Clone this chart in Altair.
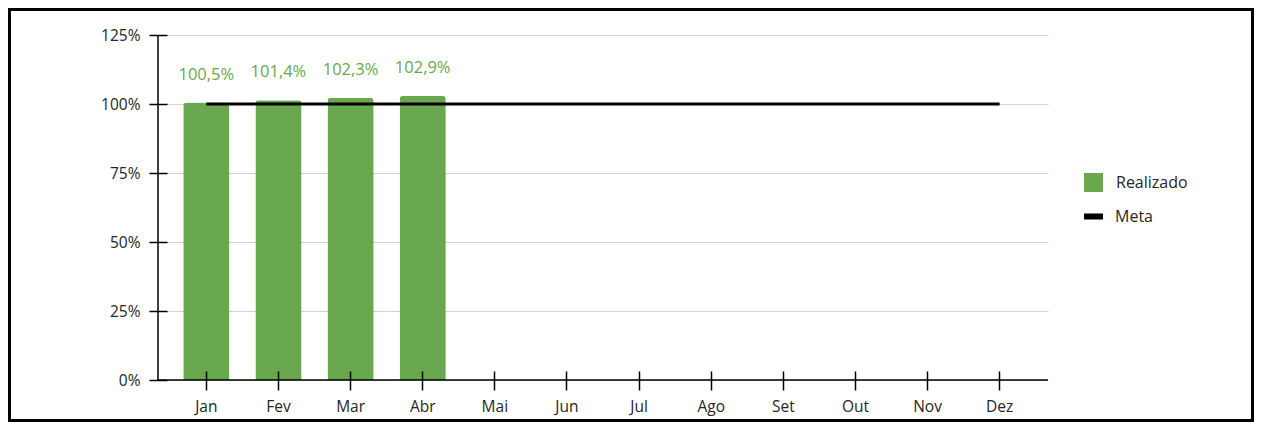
import altair as alt
import pandas as pd

meses = ["Jan", "Fev", "Mar", "Abr", "Mai", "Jun", "Jul", "Ago", "Set", "Out", "Nov", "Dez"]
realizado_meses = ["Jan", "Fev", "Mar", "Abr"]
realizado = [1.005, 1.014, 1.023, 1.029]
meta = [1.0] * 12
y_ticks = [0, 0.25, 0.5, 0.75, 1.0, 1.25]

W, H = 890, 345
GREEN = "#6aa84f"
TEXT = "#262626"
FONT = "Open Sans"

df_real = pd.DataFrame({"mes": realizado_meses, "valor": realizado, "serie": ["Realizado"] * 4})
df_meta = pd.DataFrame({"mes": meses, "valor": meta, "serie": ["Meta"] * 12})
df_zero = pd.DataFrame({"valor": [0.0]})

xscale = alt.Scale(domain=meses, paddingInner=0.36, paddingOuter=0.35)
yscale = alt.Scale(domain=[0, 1.25], nice=False, zero=True)

x_enc = alt.X(
    "mes:N", sort=meses, scale=xscale, title=None,
    axis=alt.Axis(labelAngle=0, offset=-9, tickSize=19, domain=False, grid=False,
                  tickColor="black", tickWidth=1.5, labelFontSize=15.5, labelColor=TEXT,
                  labelPadding=9.5, zindex=1, labelFont=FONT),
)
y_enc = alt.Y(
    "valor:Q", scale=yscale, title=None,
    axis=alt.Axis(values=y_ticks, format=".0%", offset=-9, tickSize=18, domain=False,
                  grid=True, gridColor="#d0d0d0", gridWidth=1, tickColor="black",
                  tickWidth=1.5, labelFontSize=15.5, labelColor=TEXT, labelPadding=9,
                  zindex=0, labelFont=FONT),
)

# decorative frame round the whole chart (outer edge 150px left of and 27px above the plot)
frame = alt.Chart(df_zero).mark_rect(
    fill="white", fillOpacity=0, stroke="black", strokeWidth=3
).encode(
    x=alt.value(-148.5), x2=alt.value(W + 204.5),
    y=alt.value(-25.5), y2=alt.value(H + 40.5),
)

bars = alt.Chart(df_real).mark_bar(cornerRadiusTopLeft=3, cornerRadiusTopRight=3).encode(
    x=x_enc,
    y=y_enc,
    color=alt.Color(
        "serie:N",
        scale=alt.Scale(domain=["Realizado"], range=[GREEN]),
        legend=alt.Legend(orient="none", legendX=926, legendY=138, title=None,
                          symbolType="square", symbolSize=361, symbolStrokeWidth=0,
                          labelFontSize=16, labelColor=TEXT, labelOffset=13, padding=0,
                          labelFont=FONT),
    ),
)

line = alt.Chart(df_meta).mark_line(color="black", strokeWidth=3).encode(
    x=x_enc,
    y=y_enc,
    strokeDash=alt.StrokeDash(
        "serie:N",
        scale=alt.Scale(domain=["Meta"], range=[[1, 0]]),
        legend=alt.Legend(orient="none", legendX=923, legendY=169, title=None,
                          symbolType="stroke", symbolSize=361, symbolStrokeWidth=6,
                          symbolStrokeColor="black", labelFontSize=16, labelColor=TEXT,
                          labelOffset=9, padding=0, labelFont=FONT),
    ),
)

x_domain = alt.Chart(df_zero).mark_rule(color="black", strokeWidth=1.5).encode(y=y_enc)
y_domain = alt.Chart(df_zero).mark_rule(color="black", strokeWidth=1.5).encode(
    x=alt.value(0), y=alt.value(0), y2=alt.value(H)
)

labels = alt.Chart(df_real).transform_calculate(
    rotulo="replace(format(datum.valor, '.1%'), '.', ',')"
).mark_text(color=GREEN, fontSize=16.5, baseline="middle", dy=-28, font=FONT).encode(
    x=x_enc, y=y_enc, text="rotulo:N"
)

chart = alt.layer(frame, bars, line, x_domain, y_domain, labels).properties(
    width=W, height=H, padding=0, background="white"
).configure(font=FONT).configure_view(stroke=None)

chart.save("out.html", embed_options={"renderer": "svg", "actions": False})
